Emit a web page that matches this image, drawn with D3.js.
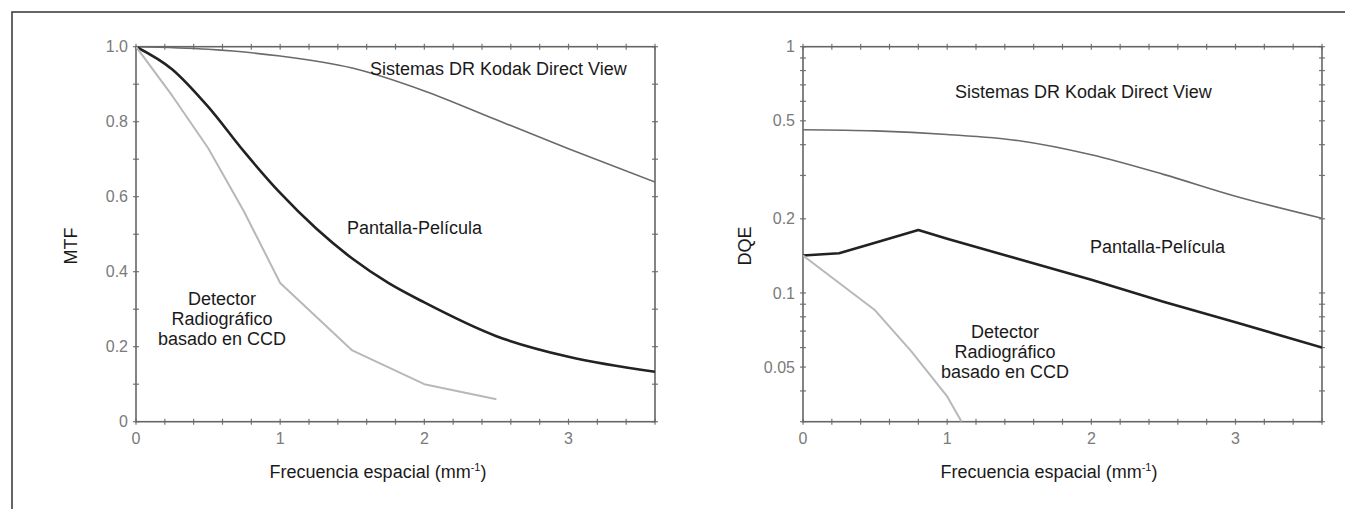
<!DOCTYPE html>
<html>
<head>
<meta charset="utf-8">
<script src="https://cdn.jsdelivr.net/npm/d3@7/dist/d3.min.js"></script>
<style>
  body { margin: 0; background: #fff; }
  text { font-family: "Liberation Sans", Arial, sans-serif; }
</style>
</head>
<body>
<div id="chart"></div>
<script>
// MTF panel (linear y)
const mtfKodakX = [0, 0.5, 1.0, 1.5, 2.0, 2.5, 3.0, 3.6];
const mtfKodakY = [1.0, 0.993, 0.975, 0.943, 0.882, 0.805, 0.728, 0.639];
const mtfFilmX = [0, 0.25, 0.5, 0.75, 1.0, 1.25, 1.5, 1.75, 2.0, 2.5, 3.0, 3.6];
const mtfFilmY = [1.0, 0.94, 0.84, 0.72, 0.61, 0.515, 0.435, 0.37, 0.318, 0.228, 0.173, 0.133];
const mtfCcdX = [0, 0.25, 0.5, 0.75, 1.0, 1.5, 2.0, 2.5];
const mtfCcdY = [1.0, 0.87, 0.73, 0.56, 0.37, 0.19, 0.10, 0.06];

// DQE panel (log y)
const dqeKodakX = [0, 0.5, 1.0, 1.5, 2.0, 2.5, 3.0, 3.6];
const dqeKodakY = [0.46, 0.455, 0.44, 0.415, 0.364, 0.303, 0.247, 0.201];
const dqeFilmX = [0, 0.25, 0.5, 0.8, 1.0, 1.5, 2.0, 2.5, 3.0, 3.6];
const dqeFilmY = [0.142, 0.145, 0.16, 0.18, 0.166, 0.137, 0.113, 0.092, 0.076, 0.060];
const dqeCcdX = [0, 0.5, 0.75, 1.0, 1.1];
const dqeCcdY = [0.142, 0.085, 0.058, 0.038, 0.030];

const xTickLabels = [0, 1, 2, 3];
const mtfTickLabels = [0, 0.2, 0.4, 0.6, 0.8, 1.0];
const dqeTickLabels = [0.05, 0.1, 0.2, 0.5, 1];

const width = 1345;
const height = 509;

const svg = d3.select("#chart")
  .append("svg")
  .attr("width", width)
  .attr("height", height);

// outer frame (left + top only)
svg.append("path")
  .attr("d", `M12,${height} V12 H${width}`)
  .attr("fill", "none")
  .attr("stroke", "#333")
  .attr("stroke-width", 1.5);

const zip = (xs, ys) => xs.map((x, i) => ({ x: x, y: ys[i] }));

function drawPanel(cfg) {
  const { left, right, top, bottom } = cfg;
  const xScale = d3.scaleLinear().domain([0, 3.6]).range([left, right]);
  const yScale = cfg.yScale.range([bottom, top]);

  const g = svg.append("g");

  // clip for curves
  const clipId = "clip-" + cfg.id;
  svg.append("clipPath").attr("id", clipId)
    .append("rect")
    .attr("x", left).attr("y", top)
    .attr("width", right - left).attr("height", bottom - top);

  // x ticks (bottom + top), every 0.2
  const xMinor = d3.range(0, 3.61, 0.2);
  xMinor.forEach((v) => {
    [bottom, top].forEach((yy) => {
      g.append("line")
        .attr("x1", xScale(v)).attr("x2", xScale(v))
        .attr("y1", yy - 3).attr("y2", yy + 3)
        .attr("stroke", "#777").attr("stroke-width", 1.2);
    });
  });

  // y ticks (left + right)
  cfg.yMinor.forEach((v) => {
    [left, right].forEach((xx) => {
      g.append("line")
        .attr("x1", xx - 3).attr("x2", xx + 3)
        .attr("y1", yScale(v)).attr("y2", yScale(v))
        .attr("stroke", "#777").attr("stroke-width", 1.2);
    });
  });

  // plot box
  g.append("rect")
    .attr("x", left).attr("y", top)
    .attr("width", right - left).attr("height", bottom - top)
    .attr("fill", "none")
    .attr("stroke", "#666")
    .attr("stroke-width", 1.6);

  // tick labels
  g.selectAll(".xlab").data(xTickLabels).enter()
    .append("text")
    .attr("x", (d) => xScale(d))
    .attr("y", bottom + 22)
    .attr("text-anchor", "middle")
    .attr("font-size", "16px")
    .attr("fill", "#7a7a7a")
    .text((d) => d);

  g.selectAll(".ylab").data(cfg.yTickLabels).enter()
    .append("text")
    .attr("x", left - 8)
    .attr("y", (d) => yScale(d))
    .attr("dy", "0.35em")
    .attr("text-anchor", "end")
    .attr("font-size", "16px")
    .attr("fill", "#7a7a7a")
    .text(cfg.yFormat);

  // curves
  const line = d3.line()
    .x((d) => xScale(d.x))
    .y((d) => yScale(d.y));

  cfg.series.forEach((s) => {
    g.append("path")
      .datum(s.data)
      .attr("clip-path", `url(#${clipId})`)
      .attr("fill", "none")
      .attr("stroke", s.color)
      .attr("stroke-width", s.width)
      .attr("stroke-linejoin", "round")
      .attr("d", line.curve(s.curve)(s.data));
  });

  // curve labels
  cfg.labels.forEach((lab) => {
    const t = g.append("text")
      .attr("x", lab.x)
      .attr("y", lab.y)
      .attr("text-anchor", lab.anchor || "start")
      .attr("font-size", "18px")
      .attr("fill", "#1a1a1a");
    lab.lines.forEach((ln, i) => {
      t.append("tspan")
        .attr("x", lab.x)
        .attr("dy", i === 0 ? 0 : 20)
        .text(ln);
    });
  });

  // y title
  g.append("text")
    .attr("transform", `translate(${cfg.yTitleX},${246}) rotate(-90)`)
    .attr("text-anchor", "middle")
    .attr("font-size", "18px")
    .attr("fill", "#1a1a1a")
    .text(cfg.yTitle);

  // x title with superscript
  const xt = g.append("text")
    .attr("x", cfg.xTitleX)
    .attr("y", 478)
    .attr("text-anchor", "middle")
    .attr("font-size", "18px")
    .attr("fill", "#1a1a1a");
  xt.append("tspan").text("Frecuencia espacial (mm");
  xt.append("tspan").attr("font-size", "11px").attr("dy", -7).text("-1");
  xt.append("tspan").attr("dy", 7).text(")");
}

drawPanel({
  id: "mtf",
  left: 136, right: 655, top: 46.7, bottom: 421.7,
  yScale: d3.scaleLinear().domain([0, 1]),
  yMinor: d3.range(0, 1.01, 0.1),
  yTickLabels: mtfTickLabels,
  yFormat: (d) => (d === 0 ? "0" : d.toFixed(1)),
  yTitle: "MTF",
  yTitleX: 77,
  xTitleX: 378,
  series: [
    { data: zip(mtfKodakX, mtfKodakY), color: "#6a6a6a", width: 1.6, curve: d3.curveMonotoneX },
    { data: zip(mtfFilmX, mtfFilmY), color: "#222", width: 2.6, curve: d3.curveMonotoneX },
    { data: zip(mtfCcdX, mtfCcdY), color: "#b8b8b8", width: 2, curve: d3.curveLinear }
  ],
  labels: [
    { x: 370, y: 75, lines: ["Sistemas DR Kodak Direct View"] },
    { x: 347, y: 234, lines: ["Pantalla-Película"] },
    { x: 222, y: 305, anchor: "middle", lines: ["Detector", "Radiográfico", "basado en CCD"] }
  ]
});

drawPanel({
  id: "dqe",
  left: 803, right: 1322, top: 46.7, bottom: 421.7,
  yScale: d3.scaleLog().domain([0.03, 1]),
  yMinor: [0.03, 0.04, 0.05, 0.06, 0.07, 0.08, 0.09, 0.1, 0.2, 0.3, 0.4, 0.5, 0.6, 0.7, 0.8, 0.9, 1],
  yTickLabels: dqeTickLabels,
  yFormat: (d) => String(d),
  yTitle: "DQE",
  yTitleX: 751,
  xTitleX: 1049,
  series: [
    { data: zip(dqeKodakX, dqeKodakY), color: "#6a6a6a", width: 1.6, curve: d3.curveMonotoneX },
    { data: zip(dqeFilmX, dqeFilmY), color: "#222", width: 2.6, curve: d3.curveLinear },
    { data: zip(dqeCcdX, dqeCcdY), color: "#b8b8b8", width: 2, curve: d3.curveLinear }
  ],
  labels: [
    { x: 955, y: 98, lines: ["Sistemas DR Kodak Direct View"] },
    { x: 1090, y: 253, lines: ["Pantalla-Película"] },
    { x: 1005, y: 338, anchor: "middle", lines: ["Detector", "Radiográfico", "basado en CCD"] }
  ]
});
</script>
</body>
</html>
